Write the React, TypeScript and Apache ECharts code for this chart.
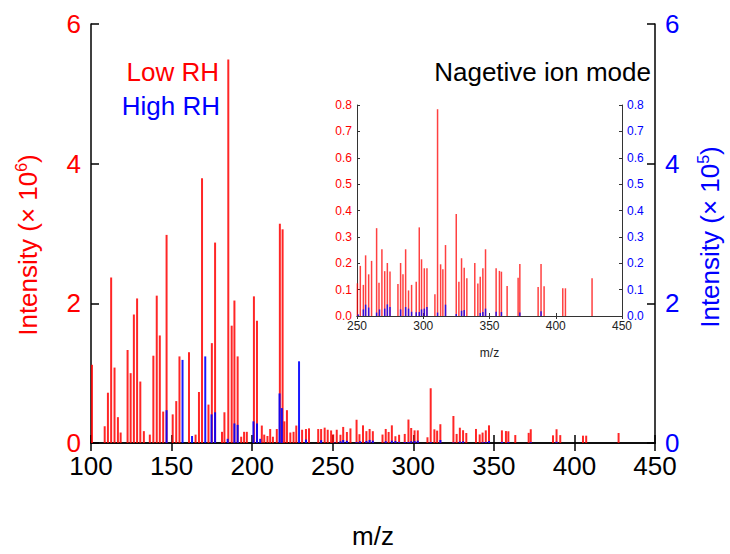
import React, { useEffect, useRef } from "react";
import * as echarts from "echarts";

// m/z positions and intensities (Low RH in 10^6 counts, High RH in 10^5 counts)
const lowRhMz = [
  100.6, 108.5, 110.5, 112.5, 114.6, 116.7, 118.4, 122.7, 124.6, 126.6, 128.6, 130.6, 132.8, 136.5,
  138.7, 140.8, 142.7, 144.8, 146.9, 150.7, 152.9, 154.9, 160.8, 164.9, 167.0, 168.9, 172.9, 175.0,
  177.0, 181.3, 182.8, 185.2, 187.3, 189.0, 191.0, 193.2, 195.0, 196.7, 201.1, 203.0, 206.0, 207.5,
  209.5, 211.2, 212.9, 215.3, 217.2, 218.9, 220.0, 221.6, 223.7, 225.7, 227.4, 231.0, 233.4, 235.3,
  241.0, 242.8, 245.0, 246.9, 249.0,
  250.3, 252.5, 254.8, 256.5, 258.8, 261.0, 264.8, 266.6, 268.8, 270.9, 272.9, 274.9, 280.9, 282.9,
  284.7, 286.7, 288.9, 291.2, 294.7, 297.0, 298.7, 300.8, 302.8, 308.8, 310.8, 313.1, 314.8, 316.8,
  324.9, 326.9, 328.9, 330.9, 332.9, 338.9, 341.2, 343.0, 345.0, 347.0, 355.0, 357.5, 359.0, 363.3,
  371.6, 372.9, 386.7, 388.9, 391.2, 405.3, 407.3, 427.4,
];
const lowRhIntensity = [
  1.12, 0.24, 0.72, 2.37, 1.08, 0.37, 0.15, 1.33, 1.0, 1.84, 2.07, 0.88, 0.17, 0.12,
  1.25, 2.11, 1.54, 0.45, 2.98, 0.41, 0.6, 1.24, 1.3, 0.12, 0.73, 3.79, 0.55, 1.43,
  2.87, 0.16, 0.44, 5.49, 1.68, 2.04, 1.24, 0.09, 0.16, 0.16, 2.1, 1.75, 0.25, 0.12,
  0.1, 0.2, 0.09, 0.2, 3.14, 3.06, 0.31, 0.47, 0.15, 0.16, 0.25, 0.19, 0.2, 0.21,
  0.2, 0.2, 0.22, 0.19, 0.18,
  0.124, 0.19, 0.118, 0.23, 0.158, 0.209, 0.333, 0.126, 0.253, 0.17, 0.201, 0.169, 0.121, 0.201,
  0.158, 0.253, 0.097, 0.118, 0.13, 0.336, 0.215, 0.181, 0.181, 0.082, 0.784, 0.196, 0.177, 0.269,
  0.387, 0.13, 0.219, 0.183, 0.143, 0.201, 0.123, 0.149, 0.181, 0.253, 0.181, 0.171, 0.168, 0.114,
  0.145, 0.197, 0.11, 0.197, 0.113, 0.105, 0.105, 0.143,
];
const highRhMz = [
  146.9, 156.8, 162.7, 170.9, 174.8, 177.0, 184.8, 189.0, 191.0, 200.8, 203.0, 205.0, 217.0, 218.4,
  229.1, 233.4, 242.8,
  251.0, 254.8, 256.5, 258.8, 264.8, 267.0, 270.9, 272.9, 274.9, 282.9, 286.7, 288.9, 291.2, 294.7,
  297.0, 298.7, 300.8, 302.8, 310.8, 316.8, 324.9, 328.9, 330.9, 343.0, 345.0, 347.0, 355.0, 359.0,
  372.9, 388.9,
];
const highRhIntensity = [
  0.47, 1.19, 0.1, 1.24, 0.41, 0.44, 0.06, 0.28, 0.26, 0.31, 0.28, 0.06, 0.71, 0.5,
  1.17, 0.05, 0.04,
  0.006, 0.025, 0.043, 0.032, 0.013, 0.025, 0.028, 0.044, 0.034, 0.025, 0.034, 0.028, 0.016, 0.014,
  0.015, 0.025, 0.028, 0.034, 0.013, 0.043, 0.008, 0.02, 0.023, 0.011, 0.015, 0.028, 0.016, 0.015,
  0.013, 0.018,
];
const mainYTicks = [0, 2, 4, 6];
const insetYTicks = [0, 0.8];

const FONT = "Liberation Sans, Arial, Helvetica, sans-serif";
const RED = "#ff0000";
const BLUE = "#0000ff";

export default function App() {
  const ref = useRef<HTMLDivElement | null>(null);
  useEffect(() => {
    if (!ref.current) return;
    const chart = echarts.init(ref.current, undefined, { renderer: "svg" });
    const low = lowRhMz.map((m, i) => [m, lowRhIntensity[i]]);
    const high = highRhMz.map((m, i) => [m, highRhIntensity[i]]);
    const lowInset = low.filter((d) => d[0] >= 250);
    const highInset = high.filter((d) => d[0] >= 250);

    const mainLine = { lineStyle: { color: "#000", width: 1.5 } };
    const mainTick = { inside: true, length: 8, lineStyle: { color: "#000", width: 1.5 } };
    const insetLine = { lineStyle: { color: "#333", width: 1 } };
    const insetTick = { inside: true, length: 3, lineStyle: { color: "#333", width: 1 } };

    const option: any = {
      animation: false,
      backgroundColor: "#fff",
      grid: [
        { left: 91, right: 75, top: 24, bottom: 108 },
        { left: 357, right: 108, top: 105, bottom: 238 },
      ],
      xAxis: [
        {
          type: "value", gridIndex: 0, min: 100, max: 450, interval: 50, position: "bottom",
          axisLine: mainLine, axisTick: mainTick, splitLine: { show: false },
          axisLabel: { color: "#000", fontSize: 26, fontFamily: FONT, margin: 10 },
          name: "m/z", nameLocation: "middle", nameGap: 80,
          nameTextStyle: { color: "#000", fontSize: 26, fontFamily: FONT },
        },
        {
          type: "value", gridIndex: 0, min: 100, max: 450, interval: 50, position: "top",
          axisLine: mainLine, axisTick: mainTick, splitLine: { show: false },
          axisLabel: { show: false },
        },
        {
          type: "value", gridIndex: 1, min: 250, max: 450, interval: 50, position: "bottom",
          axisLine: insetLine, axisTick: insetTick, splitLine: { show: false },
          axisLabel: { color: "#222", fontSize: 12, fontFamily: FONT, margin: 4 },
          name: "m/z", nameLocation: "middle", nameGap: 31,
          nameTextStyle: { color: "#222", fontSize: 12, fontFamily: FONT },
        },
        {
          type: "value", gridIndex: 1, min: 250, max: 450, interval: 50, position: "top",
          axisLine: insetLine, axisTick: insetTick, splitLine: { show: false },
          axisLabel: { show: false },
        },
      ],
      yAxis: [
        {
          type: "value", gridIndex: 0, min: mainYTicks[0], max: mainYTicks[3], interval: 2, position: "left",
          axisLine: { show: true, ...mainLine }, axisTick: mainTick, splitLine: { show: false },
          axisLabel: { color: RED, fontSize: 26, fontFamily: FONT, margin: 10 },
        },
        {
          type: "value", gridIndex: 0, min: mainYTicks[0], max: mainYTicks[3], interval: 2, position: "right",
          axisLine: { show: true, ...mainLine }, axisTick: mainTick, splitLine: { show: false },
          axisLabel: { color: BLUE, fontSize: 26, fontFamily: FONT, margin: 10 },
        },
        {
          type: "value", gridIndex: 1, min: insetYTicks[0], max: insetYTicks[1], interval: 0.1, position: "left",
          axisLine: { show: true, ...insetLine }, axisTick: insetTick, splitLine: { show: false },
          axisLabel: {
            color: RED, fontSize: 12, fontFamily: FONT, margin: 5,
            formatter: (v: number) => v.toFixed(1),
          },
        },
        {
          type: "value", gridIndex: 1, min: insetYTicks[0], max: insetYTicks[1], interval: 0.1, position: "right",
          axisLine: { show: true, ...insetLine }, axisTick: insetTick, splitLine: { show: false },
          axisLabel: {
            color: BLUE, fontSize: 12, fontFamily: FONT, margin: 5,
            formatter: (v: number) => v.toFixed(1),
          },
        },
      ],
      series: [
        {
          name: "Low RH", type: "bar", xAxisIndex: 0, yAxisIndex: 0, data: low,
          barWidth: 2, barGap: "-100%", itemStyle: { color: RED, opacity: 0.85 },
        },
        {
          name: "High RH", type: "bar", xAxisIndex: 0, yAxisIndex: 1, data: high,
          barWidth: 2, barGap: "-100%", itemStyle: { color: BLUE, opacity: 0.9 },
        },
        {
          name: "Low RH inset", type: "bar", xAxisIndex: 2, yAxisIndex: 2, data: lowInset,
          barWidth: 1.5, barGap: "-100%", itemStyle: { color: RED, opacity: 0.75 },
        },
        {
          name: "High RH inset", type: "bar", xAxisIndex: 2, yAxisIndex: 3, data: highInset,
          barWidth: 1.5, barGap: "-100%", itemStyle: { color: BLUE, opacity: 0.8 },
        },
      ],
      graphic: [
        {
          type: "text", x: 219, y: 72,
          style: { text: "Low RH", fill: RED, font: `26px ${FONT}`, align: "right", verticalAlign: "middle", textAlign: "right", textVerticalAlign: "middle" },
        },
        {
          type: "text", x: 220, y: 106,
          style: { text: "High RH", fill: BLUE, font: `26px ${FONT}`, align: "right", verticalAlign: "middle", textAlign: "right", textVerticalAlign: "middle" },
        },
        {
          type: "text", x: 651, y: 72,
          style: { text: "Nagetive ion mode", fill: "#000", font: `26px ${FONT}`, align: "right", verticalAlign: "middle", textAlign: "right", textVerticalAlign: "middle" },
        },
        {
          type: "text", x: 28, y: 245, rotation: Math.PI / 2,
          style: {
            text: "{a|Intensity (× 10}{s|6}{a|)}",
            align: "center", verticalAlign: "middle", textAlign: "center", textVerticalAlign: "middle",
            rich: {
              a: { fill: RED, fontSize: 26, fontFamily: FONT, lineHeight: 30 },
              s: { fill: RED, fontSize: 16, fontFamily: FONT, verticalAlign: "top", lineHeight: 30 },
            },
          },
        },
        {
          type: "text", x: 710, y: 237, rotation: Math.PI / 2,
          style: {
            text: "{a|Intensity (× 10}{s|5}{a|)}",
            align: "center", verticalAlign: "middle", textAlign: "center", textVerticalAlign: "middle",
            rich: {
              a: { fill: BLUE, fontSize: 26, fontFamily: FONT, lineHeight: 30 },
              s: { fill: BLUE, fontSize: 16, fontFamily: FONT, verticalAlign: "top", lineHeight: 30 },
            },
          },
        },
      ],
    };
    chart.setOption(option);
    return () => chart.dispose();
  }, []);
  return <div ref={ref} style={{ position: "fixed", left: 0, top: 0, width: 730, height: 554 }} />;
}
